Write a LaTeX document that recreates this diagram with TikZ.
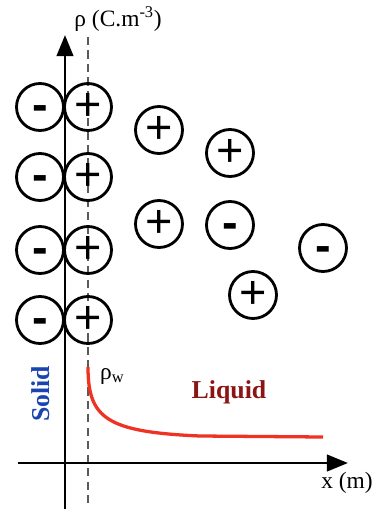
\documentclass[tikz,border=0pt]{standalone}
\usepackage{fontspec}
\setmainfont{Liberation Serif}
\newfontfamily\signfont{Liberation Sans}
\usetikzlibrary{positioning,arrows.meta}
\definecolor{solidc}{HTML}{1B44B0}
\definecolor{liquidc}{HTML}{8B1414}
\definecolor{curvec}{HTML}{EE3322}
\definecolor{dashc}{HTML}{5A5A5A}
\tikzset{
  ion/.style={circle,draw=black,line width=2.4pt,minimum size=1.41cm,inner sep=0pt,
    font=\signfont\fontsize{40}{40}\selectfont,execute at begin node=\vphantom{+}},
  axis/.style={line width=2.5pt,-{Triangle[length=18pt,width=14pt]}},
  wall/.style={dashc,line width=2pt,dash pattern=on 7pt off 4.5pt},
  lbl/.style={inner sep=0pt,font=\fontsize{20}{20}\selectfont}
}

\begin{document}
\begin{tikzpicture}[x=0.03cm,y=-0.03cm]
  \useasboundingbox (0,0) rectangle (374,509);
  % axes and shear plane
  \coordinate (yfoot) at (65,509);
  \coordinate (ytip) at (65,35);
  \coordinate (xfoot) at (18,463);
  \coordinate (xtip) at (348,463);
  \coordinate (wtop) at (88,37);
  \coordinate (wbot) at (88,509);
  \draw[wall] (wtop) -- (wbot);
  \draw[axis] (yfoot) -- (ytip);
  \draw[axis] (xfoot) -- (xtip);
  \node[lbl] (ylab) at (118,19) {ρ (C.m\textsuperscript{-3})};
  \node[lbl] (xlab) at (347,483) {x (m)};
  % fixed layer
  \foreach \r/\y in {1/107,2/177,3/250,4/320} {
    \node[ion] (m\r) at (40,\y) {\textbf{-}};
    \node[ion] (p\r) at (88,\y) {+};
  }
  % diffuse layer
  \node[ion] (d1) at (159,130) {+};
  \node[ion] (d2) at (230,153) {+};
  \node[ion] (d3) at (159,224) {+};
  \node[ion] (d4) at (230,225) {\textbf{-}};
  \node[ion] (d5) at (323,248) {\textbf{-}};
  \node[ion] (d6) at (253,295) {+};
  % charge density
  \coordinate (cstart) at (88,367);
  \coordinate (cmid) at (200,436);
  \coordinate (cend) at (323,437);
  \draw[curvec,line width=2.8pt] (cstart) .. controls (88,418) and (106,432) .. (cmid) -- (cend);
  \node[lbl,anchor=west] (rhow) at (100,376) {ρ\textsubscript{w}};
  \node[lbl,rotate=90,font=\bfseries\fontsize{22}{22}\selectfont,text=solidc] (solid) at (41,394) {Solid};
  \node[lbl,font=\bfseries\fontsize{22}{22}\selectfont,text=liquidc] (liquid) at (229,392) {Liquid};
\end{tikzpicture}
\end{document}
